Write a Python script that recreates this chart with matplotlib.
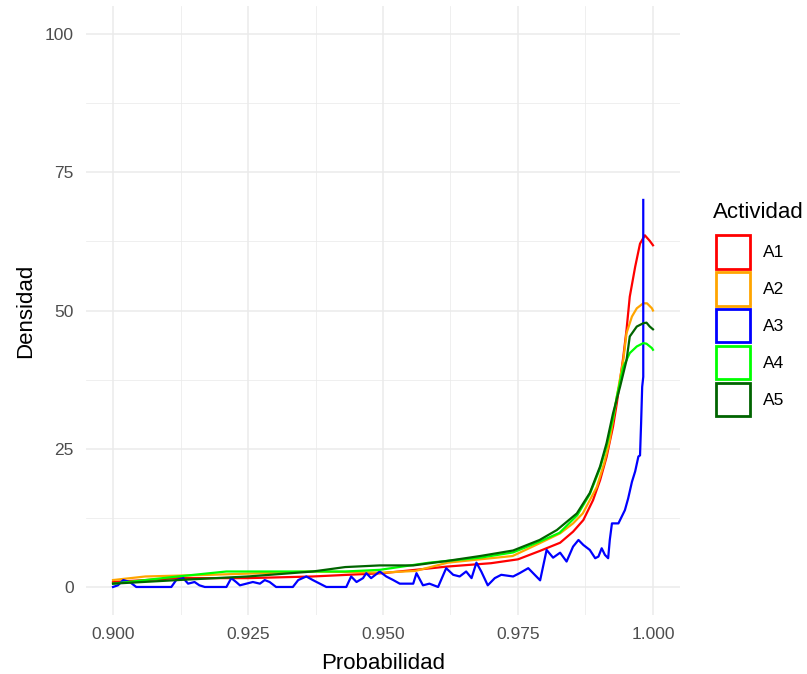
import matplotlib
matplotlib.use("Agg")
import matplotlib.pyplot as plt
from matplotlib.patches import Patch

plt.rcParams['font.family'] = ['Liberation Sans', 'DejaVu Sans']

# data (density curves per activity)
a1_x = [0.900, 0.912, 0.925, 0.937, 0.950, 0.962, 0.970, 0.975, 0.979, 0.9828, 0.9852,
        0.9871, 0.9889, 0.9902, 0.9914, 0.9926, 0.9933, 0.9945, 0.9951, 0.9957, 0.9967,
        0.9976, 0.9985, 0.9994, 1.000]
a1_y = [0.9, 1.6, 1.6, 1.9, 2.5, 3.7, 4.3, 5.0, 6.5, 8.0, 10.0,
        12.1, 15.7, 19.3, 23.5, 29.0, 33.2, 41.6, 46.5, 52.5, 57.9,
        62.1, 63.6, 62.6, 61.8]

a2_x = [0.900, 0.906, 0.918, 0.937, 0.950, 0.956, 0.962, 0.974, 0.979, 0.9828, 0.9852,
        0.9870, 0.9896, 0.9910, 0.9920, 0.9933, 0.9945, 0.9951, 0.9961, 0.9970, 0.9982,
        0.9989, 0.9998, 1.000]
a2_y = [1.25, 1.9, 2.2, 2.8, 2.6, 2.9, 4.4, 5.6, 7.9, 9.7, 11.5,
        13.3, 18.1, 22.5, 26.6, 34.4, 41.0, 45.9, 48.9, 50.4, 51.3,
        51.3, 50.4, 50.0]

a3_x = [0.9000, 0.9009, 0.9019, 0.9031, 0.9043, 0.9108, 0.9117, 0.9130, 0.9139, 0.9151,
        0.9160, 0.9170, 0.9210, 0.9219, 0.9228, 0.9235, 0.9247, 0.9259, 0.9272, 0.9281,
        0.9290, 0.9302, 0.9333, 0.9343, 0.9358, 0.9370, 0.9395, 0.9432, 0.9441, 0.9451,
        0.9463, 0.9469, 0.9478, 0.9494, 0.9506, 0.9519, 0.9531, 0.9556, 0.9562, 0.9574,
        0.9586, 0.9602, 0.9617, 0.9630, 0.9642, 0.9654, 0.9664, 0.9673, 0.9682, 0.9694,
        0.9707, 0.9719, 0.9741, 0.9753, 0.9769, 0.9778, 0.9791, 0.9803, 0.9815, 0.9828,
        0.9840, 0.9852, 0.9862, 0.9871, 0.9883, 0.9893, 0.9899, 0.9905, 0.9911, 0.9917,
        0.9920, 0.9924, 0.9936, 0.9942, 0.9948, 0.9954, 0.9961, 0.9967, 0.9973, 0.9976,
        0.9978, 0.9980, 0.9982, 0.9982]
a3_y = [0.0, 0.3, 1.25, 0.9, 0.0, 0.0, 1.25, 1.6, 0.6, 0.9,
        0.3, 0.0, 0.0, 1.6, 0.9, 0.3, 0.6, 0.9, 0.6, 1.25,
        0.9, 0.0, 0.0, 1.25, 1.9, 1.25, 0.0, 0.0, 1.9, 0.9,
        1.6, 2.5, 1.6, 2.8, 1.9, 1.25, 0.6, 0.6, 2.5, 0.3,
        0.6, 0.0, 3.4, 2.2, 1.9, 2.8, 1.6, 4.4, 2.8, 0.3,
        1.6, 2.2, 1.9, 2.5, 3.4, 2.5, 1.2, 6.7, 5.3, 6.2,
        4.6, 7.3, 8.5, 7.6, 6.7, 5.2, 5.5, 7.0, 5.8, 5.2,
        8.5, 11.5, 11.5, 12.7, 13.9, 16.0, 19.0, 20.9, 23.6, 23.8,
        29.6, 36.2, 38.0, 70.0]

a4_x = [0.900, 0.912, 0.921, 0.933, 0.943, 0.9494, 0.9586, 0.968, 0.9741, 0.979, 0.9827,
        0.9860, 0.9883, 0.9902, 0.9914, 0.9926, 0.9933, 0.9945, 0.9957, 0.9970, 0.9982,
        0.9988, 0.9998, 1.000]
a4_y = [0.6, 1.9, 2.8, 2.8, 2.8, 3.1, 4.4, 5.3, 6.25, 8.2, 9.8,
        13.0, 16.8, 21.5, 25.5, 30.5, 34.4, 39.8, 42.3, 43.5, 44.1,
        44.0, 43.2, 42.9]

a5_x = [0.900, 0.912, 0.925, 0.937, 0.943, 0.9494, 0.9556, 0.9618, 0.968, 0.9741, 0.979,
        0.9822, 0.9859, 0.9883, 0.9902, 0.9914, 0.9926, 0.9939, 0.9951, 0.9957, 0.9970,
        0.9982, 0.9988, 0.9994, 1.000]
a5_y = [0.6, 1.25, 1.9, 2.8, 3.6, 3.9, 3.9, 4.7, 5.6, 6.6, 8.5,
        10.3, 13.3, 17.0, 21.8, 26.0, 31.4, 36.2, 41.0, 45.3, 47.1,
        47.7, 47.8, 47.1, 46.6]

labels = ["A1", "A2", "A3", "A4", "A5"]
colors = ["red", "orange", "blue", "#00FF00", "darkgreen"]
series = [(a1_x, a1_y), (a2_x, a2_y), (a3_x, a3_y), (a4_x, a4_y), (a5_x, a5_y)]
draw_order = [0, 1, 3, 4, 2]

x_ticks = [0.900, 0.925, 0.950, 0.975, 1.000]
y_ticks = [0, 25, 50, 75, 100]

fig = plt.figure(figsize=(8.07, 6.74), dpi=100)
ax = fig.add_axes([0.1066, 0.0881, 0.736, 0.9024])

for k in draw_order:
    xs, ys = series[k]
    ax.plot(xs, ys, color=colors[k], lw=1.6, zorder=3 + k)

ax.set_xlim(0.895, 1.005)
ax.set_ylim(-5, 105)
ax.set_xticks(x_ticks)
ax.set_xticklabels([f"{v:.3f}" for v in x_ticks])
ax.set_yticks(y_ticks)
ax.set_xticks([0.9125, 0.9375, 0.9625, 0.9875], minor=True)
ax.set_yticks([12.5, 37.5, 62.5, 87.5], minor=True)
ax.grid(True, which='major', color='#EBEBEB', lw=1.1)
ax.grid(True, which='minor', color='#EBEBEB', lw=0.55)
ax.set_axisbelow(True)
for s in ax.spines.values():
    s.set_visible(False)
ax.tick_params(which='both', length=0, labelsize=12.5, labelcolor='#4D4D4D', pad=9)

ax.set_xlabel("Probabilidad", fontsize=16, labelpad=7.5)
ax.set_ylabel("Densidad", fontsize=16, labelpad=6)

# legend: title as separate text, keys as outlined squares
fig.text(0.8835, 0.684, "Actividad", fontsize=16, va='center', ha='left')
handles = [Patch(facecolor='white', edgecolor=c, lw=2) for c in colors]
leg = fig.legend(handles, labels, loc='upper left',
                 bbox_to_anchor=(0.8872, 0.6513), frameon=False, fontsize=12.5,
                 handlelength=1.96, handleheight=2.6,
                 labelspacing=0.19, handletextpad=0.75, borderpad=0,
                 borderaxespad=0)

fig.savefig("out.png", dpi=100)
